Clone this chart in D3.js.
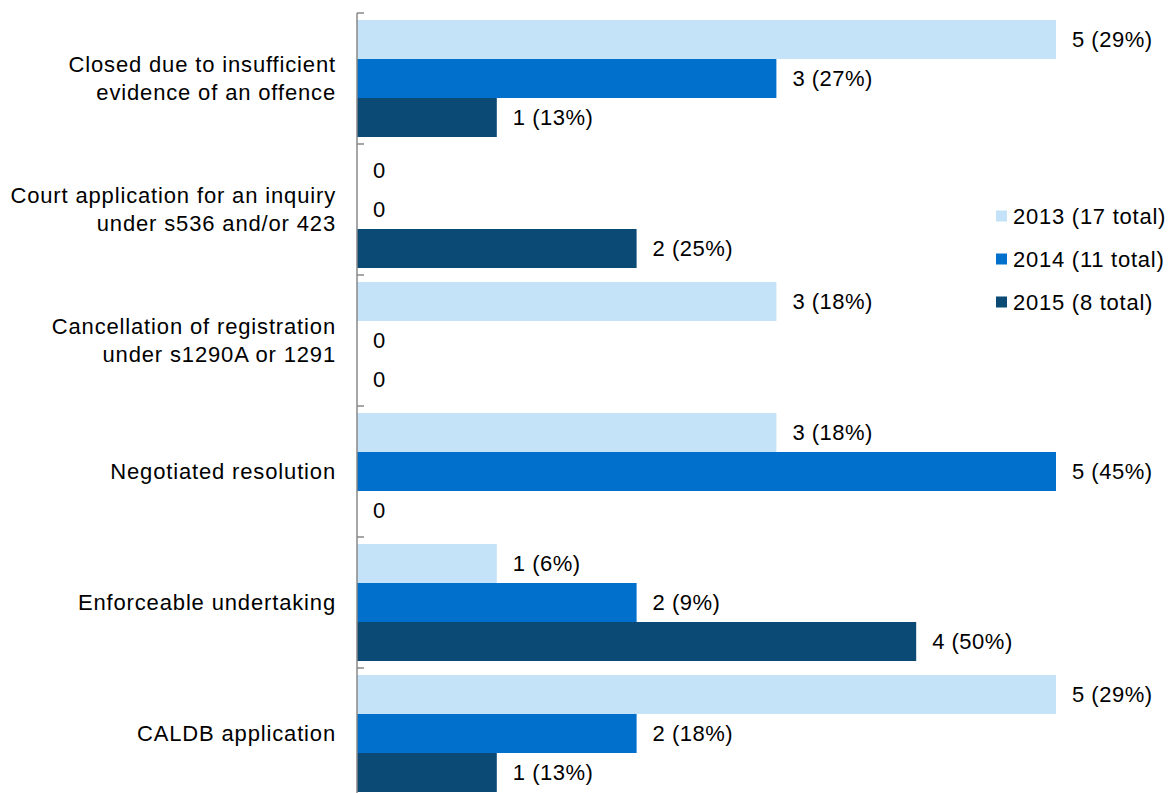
<!DOCTYPE html>
<html><head><meta charset="utf-8">
<script src="https://cdn.jsdelivr.net/npm/d3@7"></script>
<style>body{margin:0;background:#fff;}svg{display:block;font-family:"Liberation Sans",Arial,sans-serif;}</style>
</head><body>
<svg id="c" width="1170" height="793"></svg>
<script>
const categories = [
  ["Closed due to insufficient", "evidence of an offence"],
  ["Court application for an inquiry", "under s536 and/or 423"],
  ["Cancellation of registration", "under s1290A or 1291"],
  ["Negotiated resolution"],
  ["Enforceable undertaking"],
  ["CALDB application"]
];
const seriesNames = ["2013 (17 total)", "2014 (11 total)", "2015 (8 total)"];
const values2013 = [5, 0, 3, 3, 1, 5];
const values2014 = [3, 0, 0, 5, 2, 2];
const values2015 = [1, 2, 0, 0, 4, 1];
const labels2013 = ["5 (29%)", "0", "3 (18%)", "3 (18%)", "1 (6%)", "5 (29%)"];
const labels2014 = ["3 (27%)", "0", "0", "5 (45%)", "2 (9%)", "2 (18%)"];
const labels2015 = ["1 (13%)", "2 (25%)", "0", "0", "4 (50%)", "1 (13%)"];
const colors = ["#c5e3f8", "#0070cc", "#0b4a75"];

const svg = d3.select("#c");
const x = d3.scaleLinear().domain([0, 5]).range([357, 1056]);
const y0 = d3.scaleBand().domain(d3.range(categories.length)).range([13, 799]);
const barH = 39, barOff = (y0.bandwidth() - 3 * barH) / 2;
const y1 = d3.scaleBand().domain([0, 1, 2]).range([barOff, barOff + 3 * barH]);

const series = [values2013, values2014, values2015];
const labels = [labels2013, labels2014, labels2015];

const g = svg.append("g");
categories.forEach((cat, i) => {
  series.forEach((vals, s) => {
    const yy = y0(i) + y1(s);
    g.append("rect").attr("x", x(0)).attr("y", yy)
      .attr("width", x(vals[i]) - x(0)).attr("height", y1.bandwidth())
      .attr("fill", colors[s]);
    g.append("text").attr("x", x(vals[i]) + 16).attr("y", yy + y1.bandwidth() / 2)
      .attr("dy", "0.36em").attr("font-size", 22).attr("letter-spacing", 0.5).attr("fill", "#000").text(labels[s][i]);
  });
  const cy = y0(i) + y0.bandwidth() / 2;
  const t = svg.append("text").attr("text-anchor", "end").attr("font-size", 22).attr("letter-spacing", 0.85).attr("fill", "#000");
  const n = cat.length;
  cat.forEach((line, k) => {
    t.append("tspan").attr("x", 336).attr("y", cy + (k - (n - 1) / 2) * 28).attr("dy", "0.36em").text(line);
  });
});

// axis
const ax = svg.append("g");
ax.append("line").attr("x1", 357).attr("x2", 357).attr("y1", 13).attr("y2", 799).attr("stroke", "#898989").attr("stroke-width", 1.5);
d3.range(categories.length + 1).forEach(i => {
  const yy = 13 + i * y0.bandwidth();
  ax.append("line").attr("x1", 357).attr("x2", 364).attr("y1", yy).attr("y2", yy).attr("stroke", "#898989").attr("stroke-width", 1.5);
});

// legend
const lg = svg.append("g");
seriesNames.forEach((name, s) => {
  const ly = 216 + s * 43;
  lg.append("rect").attr("x", 996).attr("y", ly - 5.5).attr("width", 11).attr("height", 11).attr("fill", colors[s]);
  lg.append("text").attr("x", 1013).attr("y", ly).attr("dy", "0.36em").attr("font-size", 22).attr("letter-spacing", 0.75).attr("fill", "#000").text(name);
});
</script>
</body></html>
